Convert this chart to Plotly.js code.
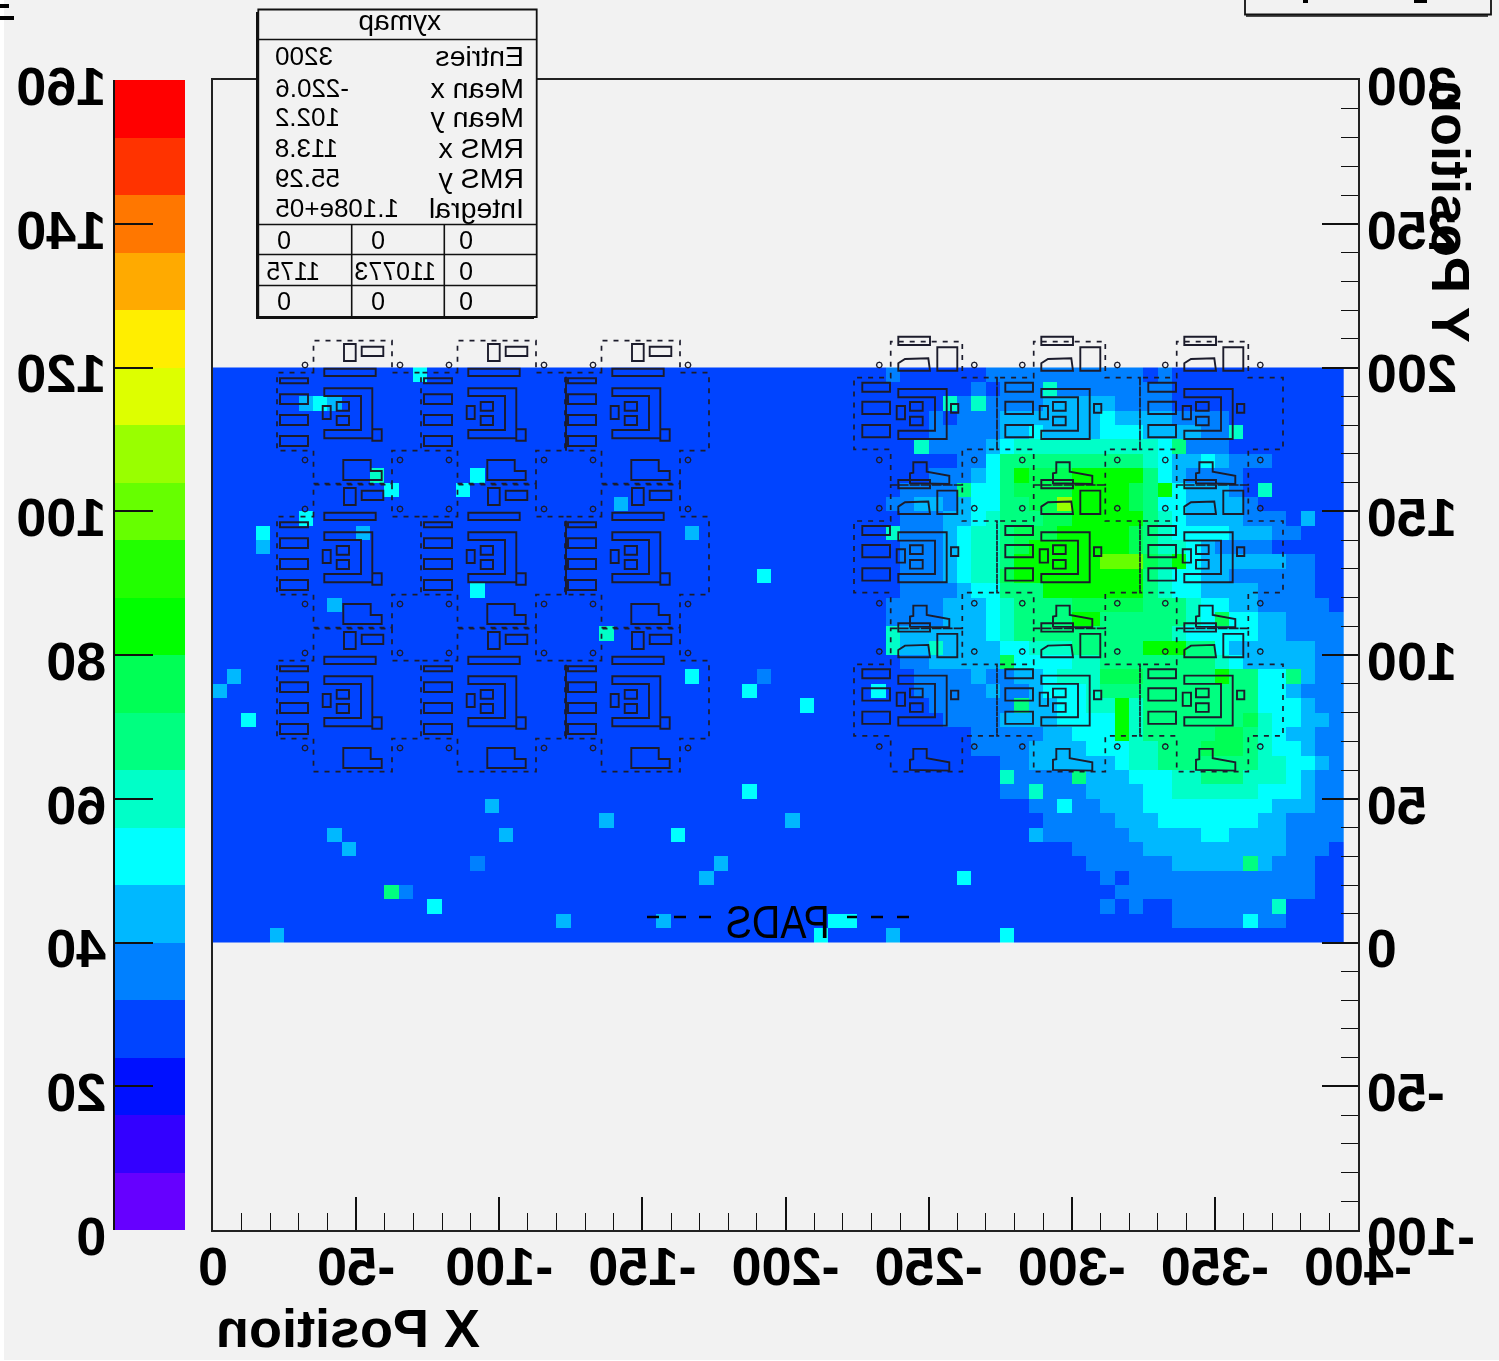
<!DOCTYPE html>
<html><head><meta charset="utf-8"><title>xymap</title>
<script src="https://cdn.plot.ly/plotly-3.0.1.min.js"></script>
<style>html,body{margin:0;padding:0;background:#f2f2f2;overflow:hidden}
#g{width:1499px;height:1361px;transform:scaleX(-1);transform-origin:center;filter:blur(0.45px)}</style>
</head><body><div id="g"></div>
<script>
// Palette steps, lowest first (each step spans 8 counts on the 0-160 scale)
const paletteColors=['#6600ff','#3300ff','#0010ff','#0044ff','#0080ff','#00b8ff','#00ffff','#00ffc8','#00ff80','#00ff55','#00ff00','#22ff00','#66ff00','#99ff00','#ddff00','#ffee00','#ffaa00','#ff7700','#ff3300','#ff0000'];
// Histogram bins that differ from the background step, per row from y=200 downwards.
// Token "a-b:L" = columns a..b (column 0 is x 0..-5) sit in palette step L
const backgroundStep=3;
const rowRuns=[
"14:6 47:4 54-64:4 66:4",
"53:4 55-57:4 58:7 59-66:4",
"6:5 7:6 8:5 51:7 52:4 53:7 54-57:4 58-62:5 63-66:4",
"50:4 52-54:4 55-61:5 62:6 63-66:5 67-70:4",
"50-54:4 55-56:5 57:6 58-61:5 62-64:6 65-68:5 69-70:4 71:7",
"49:7 50-53:4 54:5 55:6 56-65:7 66:6 67:8 68-70:4",
"52-53:4 54:6 55-64:8 65:7 66:6 67-68:5 69:6 70:5 71-73:4",
"11:7 18:6 50-52:4 53:5 54:6 55:8 56:10 57-59:9 60-64:10 65:8 66:6 67:5 68-71:4",
"12:6 17:6 48-51:4 52:8 53-54:6 55:8 56-59:9 60-63:10 64:9 65:8 66:10 67:6 68-70:5 71:4 73:7",
"28:5 47-48:4 49-50:5 51:4 52:5 53-54:6 55-56:8 57-58:9 59:13 60-63:10 64:9 65:8 66-67:6 68-71:5 72:4",
"6:6 48-50:4 51-52:5 53:6 54:7 55-57:8 58-59:9 60-64:10 65:8 66:7 67:6 68-71:5 72-74:4 76:5",
"3:6 10:5 33:5 47:7 48-50:4 51:5 52:6 53-54:7 55:8 56-58:9 59-63:10 64:9 65:8 66:7 67-70:6 71-73:5 74-75:4",
"3:5 48-50:4 51:5 52:6 53-54:7 55:8 56:9 57-63:10 64:9 65:8 66-67:7 68:6 69:5 70-73:4",
"48-50:4 51:5 52:6 53-54:7 55:8 56-61:10 62-64:12 65:9 66:8 67:10 68:6 69-74:5 75-76:4",
"38:6 48-50:4 51:5 52:6 53-54:7 55:9 56-64:10 65:8 66:7 67-68:6 69-70:5 71-76:4",
"18:6 48-51:4 52:5 53-54:6 55-57:8 58-64:10 65:8 66:7 67-68:6 69-72:5 73-76:4",
"8:5 47-50:4 51-53:5 54:6 55:7 56-59:8 60-64:9 65-67:8 68:7 69-70:6 71-72:5 73-77:4",
"47-50:4 51-53:5 54:6 55:7 56-59:8 60-61:10 62-67:8 68:7 69:6 70:9 71-72:6 73-74:5 75-78:4",
"27:7 47:7 48-53:5 54:6 55:7 56-66:8 67:7 68-72:6 73-74:5 75-78:4",
"47:7 48-49:5 50:7 51-54:5 55-56:6 57-59:7 60-64:8 65-67:10 68-69:8 70:6 71-76:5 77-78:4",
"48-49:4 50-54:5 55:9 56-59:6 60-61:7 62-69:8 70:7 71:6 72-76:5 77-78:4",
"1:5 33:6 38:4 49-52:4 53:5 54-55:4 56-57:5 58:6 59-61:7 62-64:9 65-69:8 70:10 71-72:8 73-74:6 75:8 76:5 77-78:4",
"0:5 37:6 46:6 49-53:4 54:5 55-56:4 57:5 58-60:6 61:7 62-72:8 73-74:6 75:5 76-78:4",
"41:6 50-55:4 56:8 57-58:5 59-60:6 61-62:7 63:10 64:7 65-72:8 73-75:6 76:5 77-78:4",
"2:6 51-54:4 55-58:5 59-62:6 63:10 64:7 65-71:8 72:9 73:7 74-75:6 76-77:5 78:4",
"53-57:4 58-59:5 60-62:6 63:10 64:7 65-69:8 70-71:9 72:8 73:7 74:6 75-76:5 77-78:4",
"53-56:4 57-60:5 61-63:6 64-65:7 66-68:8 69-71:9 72:8 73:7 74-75:6 76:5 77-78:4",
"55-56:4 57-62:5 63:6 64-65:7 66-72:8 73-74:7 75-76:6 77:5 78:4",
"55:7 56-59:4 60:8 61-63:5 64-66:6 67-68:7 69-71:8 72-74:7 75:6 76:5 77-78:4",
"37:6 55-56:4 57:7 58-60:4 61-64:5 65-66:6 67-72:7 73-75:6 76:5 77-78:4",
"19:5 57-58:4 59:6 60-61:4 62-64:5 65-73:6 74-76:5 77-78:4",
"27:5 40:5 58-62:4 63-65:5 66-72:6 73-74:5 75-78:4",
"8:5 20:5 32:6 57:5 58-63:4 64-68:5 69-70:6 71-74:5 75-78:4",
"9:5 60-64:4 65-74:5 75-77:4",
"18:4 35:5 61-66:4 67-71:5 72:8 73:5 74-76:4",
"34:5 52:6 62:4 64-76:4",
"12:8 13:4 63-76:4",
"15:6 62:4 64:4 67-73:4 74:7",
"24:5 31:5 43-44:6 67-71:4 72:6 73-74:4",
"4:5 42:6 47:5 55:6"];
const columnCount=79;
const xTickValues=[-400,-350,-300,-250,-200,-150,-100,-50,0];
const xTickLabels=['-400','-350','-300','-250','-200','-150','-100','-50','0'];
const yTickValues=[-100,-50,0,50,100,150,200,250,300];
const yTickLabels=['-100','-50','0','50','100','150','200','250','300'];
const statNames=['Entries','Mean x','Mean y','RMS x','RMS y','Integral'];
const statValues=['3200','-220.6','102.2','113.8','55.29','1.108e+05'];
const overflowGrid=[['0','0','0'],['0','110773','1175'],['0','0','0']];

const stepCount=l=>l*8+4;
const zRows=rowRuns.map(r=>{const a=new Array(columnCount).fill(stepCount(backgroundStep));
  r.split(' ').forEach(t=>{const[p,l]=t.split(':');const[s,e]=p.split('-').map(Number);
    for(let c=s;c<=(e===undefined?s:e);c++)a[c]=stepCount(+l);});return a;});
const xCenters=Array.from({length:columnCount},(_,c)=>-2.5-5*c);
const yCenters=rowRuns.map((_,r)=>197.5-5*r);
const colorscale=[];paletteColors.forEach((c,i)=>{colorscale.push([i/20,c],[(i+1)/20,c]);});

// reference-picture pixel helpers (the page is mirrored as a whole)
const dx=px=>-(px-213)/2.8625, dy=py=>(942.5-py)/2.875;
const W=1243,H=1150;
const px=x=>((1499-x)-141)/W, py=y=>1-(y-80)/H;
const poly=(ox,oy,pts,close=true)=>pts.map((p,i)=>(i?'L':'M')+dx(ox+p[0])+','+dy(oy+p[1])).join(' ')+(close?' Z ':' ');
const rect=(ox,oy,r)=>poly(ox,oy,[[r[0],r[1]],[r[2],r[1]],[r[2],r[3]],[r[0],r[3]]]);
const ring=(ox,oy,c)=>{const R=2.8,n=8,p=[];for(let i=0;i<n;i++){const t=i/n*2*Math.PI;p.push([c[0]+R*Math.cos(t),c[1]+R*Math.sin(t)]);}return poly(ox,oy,p);};

const leftRects=[[3,5.6,31,10.6],[3,21.6,31,31.3],[3,42.3,31,52.3],[3,63.3,31,73.3],[47.3,-4,98.7,3.3],[95.3,56.6,104.7,68],[45.7,33.3,53.7,46.3],[59.7,29.3,72,38],[59.7,43.3,72,52.3],[67,-28.7,78.7,-11.7],[84.7,-26,106.3,-16.7]];
const leftPolys=[[[47.3,15.6],[95.3,15.6],[95.3,65.6],[47.3,65.6],[47.3,57.3],[84,57.3],[84,23.3],[47.3,23.3]],[[66.3,87.3],[93.7,87.3],[93.7,98.3],[104.7,98.3],[104.7,107.3],[66.3,107.3]]];
const leftRings=[[28,-7.7],[123,-7.7],[28,87.3],[123,87.3]];
const leftOutline=[[36.5,0],[36.5,-32],[115,-32],[115,0],[144,0],[144,78],[115,78],[115,111],[36.5,111],[36.5,78],[0,78],[0,0]];
const rightRects=[[8.3,5,36,14],[8.3,24,36,36.3],[8.3,47.3,36,59.6],[42.7,28.3,51,41.6],[56,24.3,68.7,33],[56,39,68.7,47.6],[97,26.3,104.3,35],[44.3,-41,76,-32.7],[83.3,-30.4,103.3,-7]];
const rightPolys=[[[44.3,11.3],[92.7,11.3],[92.7,61.3],[44.3,61.3],[44.3,53],[81,53],[81,19.6],[44.3,19.6]],[[44.3,-7],[44.3,-14.4],[51,-18.7],[74.3,-19.4],[76,-7]],[[56,105.6],[56,95.6],[59.3,95],[59.3,84.6],[72.7,84.6],[72.7,94],[95.3,98],[95.3,106.3]]];
const rightRings=[[25.3,-12.7],[120.3,-12.7],[25.3,82.3],[120.3,82.3]];
const rightOutline=[[36.7,0],[36.7,-36],[108.3,-36],[108.3,0],[143,0],[143,71.6],[108.3,71.6],[108.3,107.3],[36.7,107.3],[36.7,71.6],[0,71.6],[0,0]];

let solid='',dashed='',thin='';
function module(ox,oy,rects,polys,rings,outline){
  rects.forEach(r=>solid+=rect(ox,oy,r));
  polys.forEach(p=>solid+=poly(ox,oy,p));
  rings.forEach(c=>thin+=ring(ox,oy,c));
  dashed+=poly(ox,oy,outline);
}
[277,421,565].forEach(ox=>[372.7,516.7,660.7].forEach(oy=>module(ox,oy,leftRects,leftPolys,leftRings,leftOutline)));
[854,997,1140].forEach(ox=>[377.7,521,664.3].forEach(oy=>module(ox,oy,rightRects,rightPolys,rightRings,rightOutline)));
[372.7,516.7,660.7].forEach(oy=>{solid+=poly(566,oy,[[0,4],[0,78]],false);});

const dark='#1c1c2c';
const shapes=[
 {type:'path',xref:'x',yref:'y',path:dashed,line:{color:dark,width:1.7,dash:'5px,6px'},layer:'above'},
 {type:'path',xref:'x',yref:'y',path:solid,line:{color:dark,width:1.9},layer:'above'},
 {type:'path',xref:'x',yref:'y',path:thin,line:{color:dark,width:1.3},layer:'above'},
 {type:'path',xref:'x',yref:'y',line:{color:'#000',width:2.5},layer:'above',path:[[647,659],[674,686],[699,711],[847,857],[871,883],[897,909]].map(s=>'M'+dx(s[0])+','+dy(917)+' L'+dx(s[1])+','+dy(917)).join(' ')}
];
function pRect(x0,y0,x1,y1,fill,line,w){shapes.push({type:'rect',xref:'paper',yref:'paper',x0:px(x0),x1:px(x1),y0:py(y0),y1:py(y1),fillcolor:fill||'rgba(0,0,0,0)',line:{color:line||'rgba(0,0,0,0)',width:w||0},layer:'above'});}
function pLine(x0,y0,x1,y1,w){shapes.push({type:'line',xref:'paper',yref:'paper',x0:px(x0),x1:px(x1),y0:py(y0),y1:py(y1),line:{color:'#111',width:w||1.6},layer:'above'});}
// stats box
pRect(256,12,534,319,'#111');
pRect(258.3,9.5,536.7,317,'#f2f2f2','#111',1.8);
[39.5,224.5,254.5,285.5].forEach(y=>pLine(258.3,y,536.7,y));
[351.7,444.3].forEach(x=>pLine(x,224.5,x,317));
// title box at the top edge, cut by the picture
pRect(1245,-20,1491,14.5,'#f2f2f2','#111',1.8);
pLine(1246,16,1488,16,1.5);
pRect(1303,0,1308,3,'#000');pRect(1414,0,1427,3,'#000');
// white strip and marks at the picture edge
pRect(0,0,4,1361,'#ffffff');pRect(0,1360,1499,1361,'#ffffff');
pRect(0,4,9,8,'#000');pRect(0,16,14,20,'#000');

const F='"Liberation Sans",Arial,sans-serif';
const note=(text,x,y,size,anchor,extra)=>Object.assign({xref:'paper',yref:'paper',x:px(x),y:py(y),text,showarrow:false,xanchor:anchor||'center',yanchor:'middle',font:{family:F,size,color:'#000'},borderpad:0},extra||{});
const annotations=[
 note('xymap',400,21,28),
 note('PADS',778,921,47),
 note('<b>X Position</b>',348,1328,54),
 note('<b>Y Position</b>',1451,212,54,'center',{textangle:-90})
];
const statY=[56,88,117,148,178,208];
statNames.forEach((n,i)=>{annotations.push(note(n,525,statY[i],28.5,'left'));annotations.push(note(statValues[i],274,statY[i],26,'right'));});
const cellX=[466,378,284],cellY=[240,271,301];
overflowGrid.forEach((row,r)=>row.forEach((v,c)=>{let x=cellX[c];if(v==='110773')x=395;if(v==='1175')x=293;annotations.push(note(v,x,cellY[r],25));}));

const tickFont={family:F,size:54,color:'#000',weight:'bold'};
const data=[
 {type:'heatmap',x:xCenters,y:yCenters,z:zRows,colorscale,zmin:0,zmax:160,showscale:false,xaxis:'x',yaxis:'y',hoverinfo:'skip'},
 {type:'heatmap',x:[0],y:paletteColors.map((_,i)=>i*8+4),z:paletteColors.map((_,i)=>[i*8+4]),colorscale,zmin:0,zmax:160,showscale:false,xaxis:'x2',yaxis:'y2',hoverinfo:'skip'}
];
const layout={width:1499,height:1361,margin:{l:141,r:115,t:80,b:131,pad:0},paper_bgcolor:'#f2f2f2',plot_bgcolor:'#f2f2f2',showlegend:false,
 xaxis:{domain:[0,1145/W],range:[-400,0],anchor:'y',tickmode:'array',tickvals:xTickValues,ticktext:xTickLabels,ticks:'inside',ticklen:33,tickwidth:1.6,tickcolor:'#111',showline:true,mirror:true,linecolor:'#222',linewidth:2,showgrid:false,zeroline:false,tickfont:tickFont,ticklabelstandoff:-12,
   minor:{tick0:0,dtick:10,ticks:'inside',ticklen:17,tickwidth:1.4,tickcolor:'#111',showgrid:false}},
 yaxis:{domain:[0,1],range:[-100,300],anchor:'x',tickmode:'array',tickvals:yTickValues,ticktext:yTickLabels,ticks:'inside',ticklen:36,tickwidth:1.6,tickcolor:'#111',showline:true,mirror:true,linecolor:'#222',linewidth:2,showgrid:false,zeroline:false,tickfont:tickFont,ticklabelstandoff:-4,ticklabelshift:6,
   minor:{tick0:0,dtick:10,ticks:'inside',ticklen:17,tickwidth:1.4,tickcolor:'#111',showgrid:false}},
 xaxis2:{domain:[(1314-141)/W,1],anchor:'y2',visible:false,range:[-0.5,0.5]},
 yaxis2:{domain:[0,1],range:[0,160],anchor:'x2',side:'right',tick0:0,dtick:20,ticks:'inside',ticklen:38,tickwidth:1.6,tickcolor:'#111',showline:true,linecolor:'#111',linewidth:2,showgrid:false,zeroline:false,tickfont:tickFont,ticklabelstandoff:-4,ticklabelshift:6},
 shapes,annotations};
Plotly.newPlot('g',data,layout,{displayModeBar:false,responsive:false}).then(gd=>{
  // PADS is set in a condensed face in the reference
  gd.querySelectorAll('.annotation-text').forEach(t=>{if(t.textContent==='PADS'){t.setAttribute('textLength','104');t.setAttribute('lengthAdjust','spacingAndGlyphs');}});
});
</script></body></html>
